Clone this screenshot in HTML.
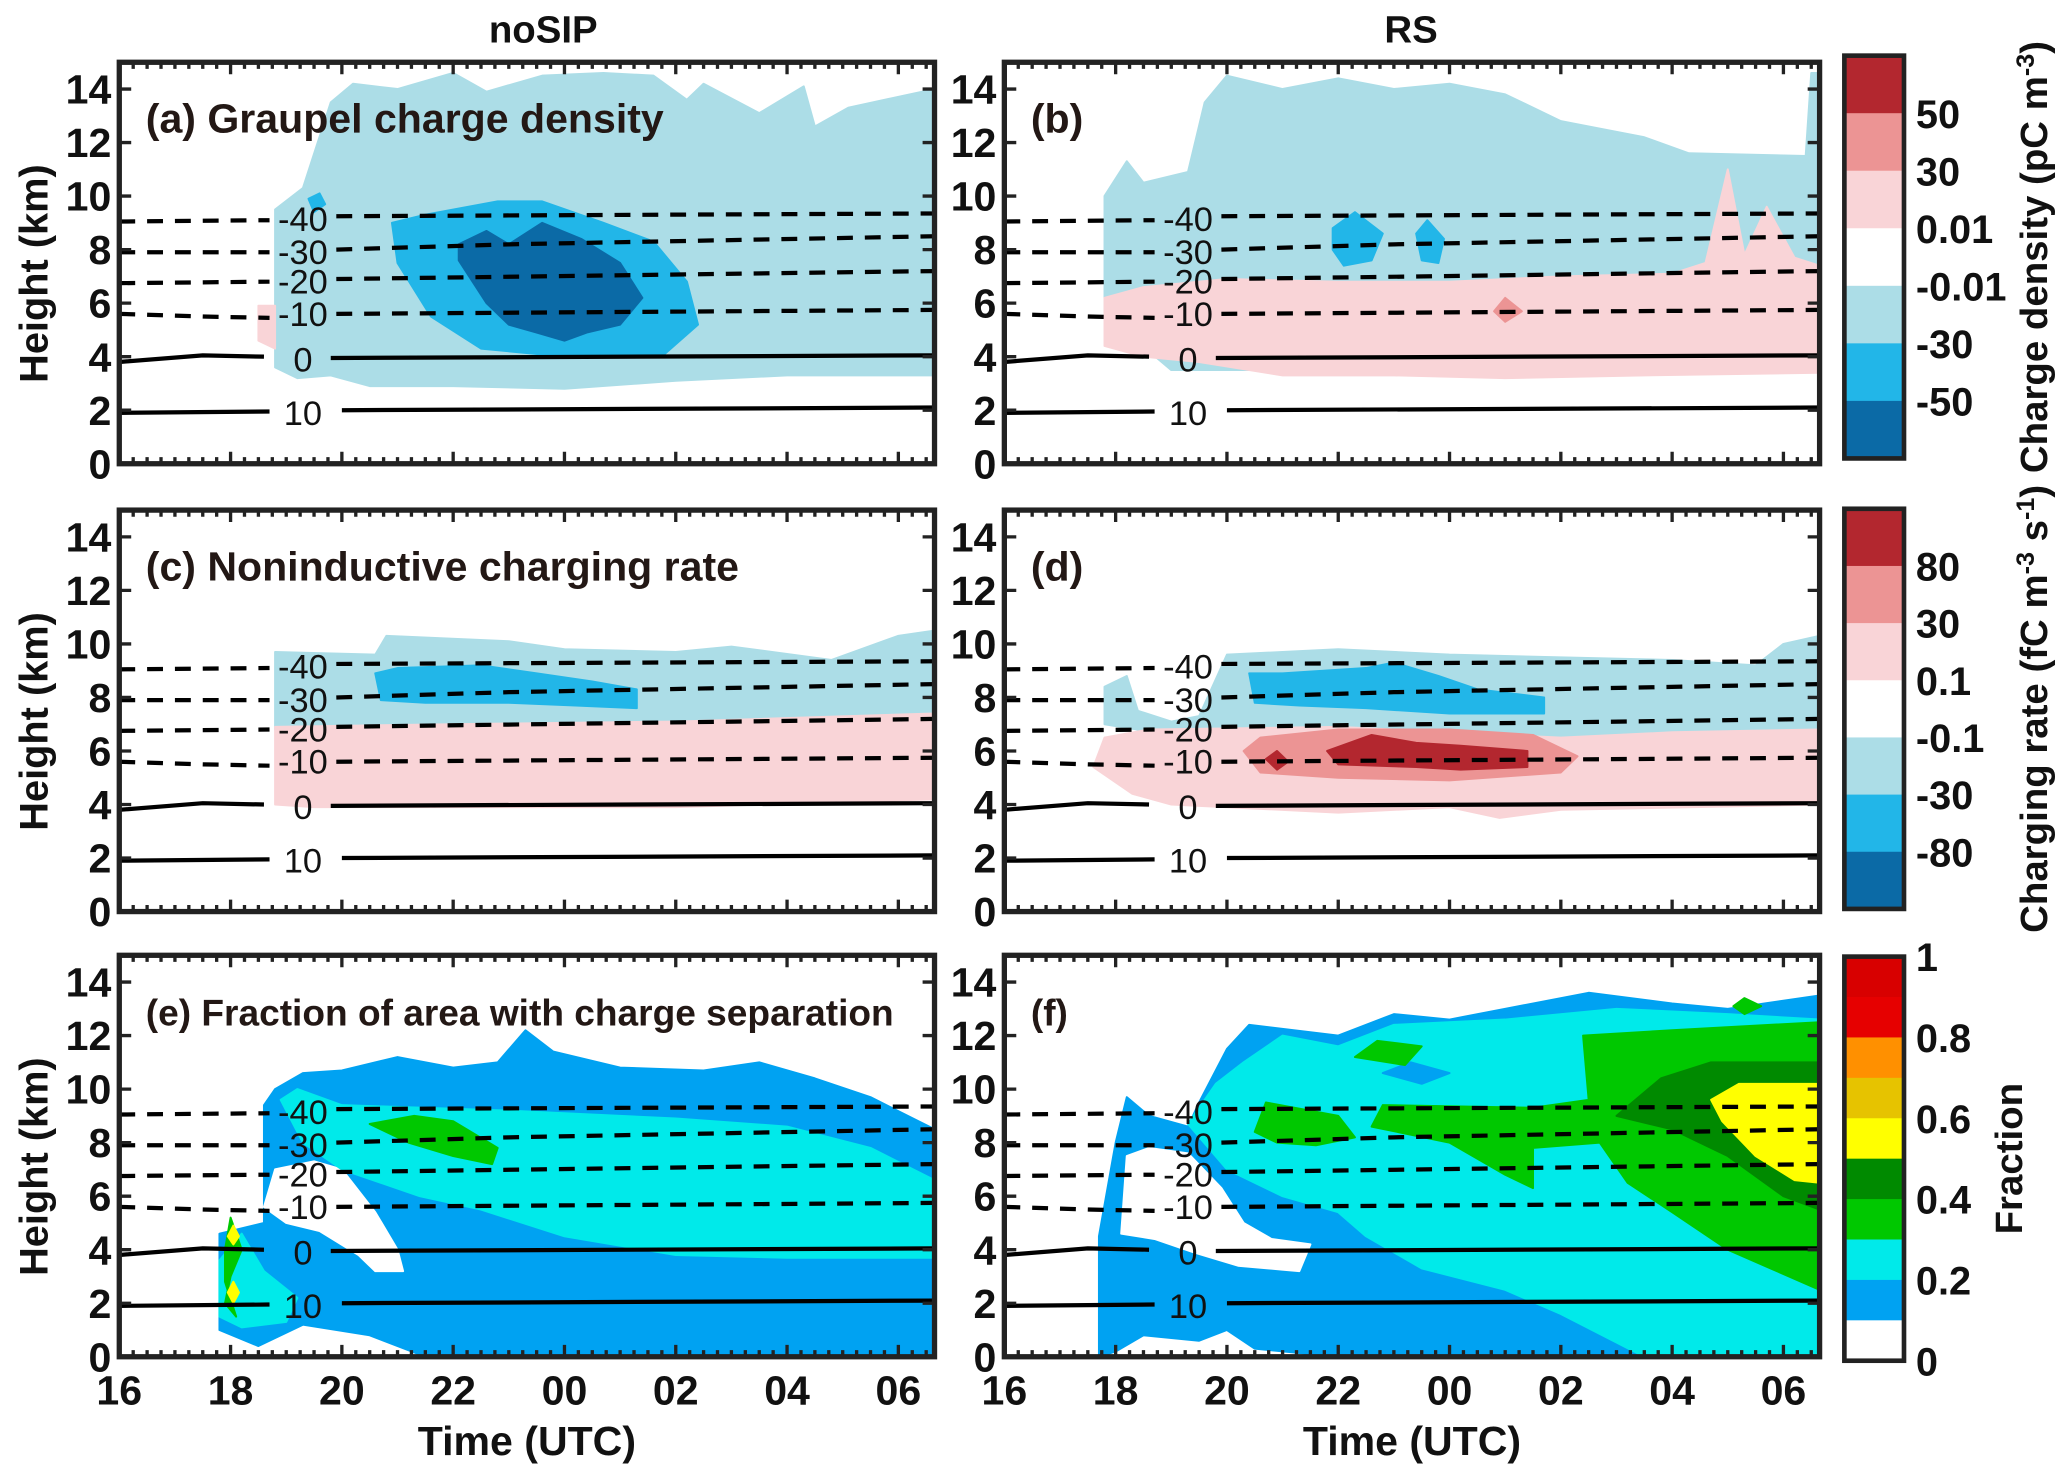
<!DOCTYPE html>
<html><head><meta charset="utf-8"><style>
html,body{margin:0;padding:0;background:#fff;}
svg{display:block;}
text{font-family:"Liberation Sans",sans-serif;}
</style></head><body>
<svg id="fig" width="2067" height="1476" viewBox="0 0 1560 1114" xmlns="http://www.w3.org/2000/svg">
<g id="layer"></g>
</svg>
<script>
// ---- data (time in hours since 16 UTC, height in km) ----
const xTickLabels = ["16","18","20","22","00","02","04","06"];
const yTickLabels = [0,2,4,6,8,10,12,14];
const cb1Labels = ["50","30","0.01","-0.01","-30","-50"];
const cb2Labels = ["80","30","0.1","-0.1","-30","-80"];
const cb3Labels = ["1","0.8","0.6","0.4","0.2","0"];
const isoLevels = ["-40","-30","-20","-10","0","10"];
const isoLeft = [[[0,9.05],[2.7,9.1]],[[0,7.9],[2.7,7.9]],[[0,6.75],[2.7,6.8]],[[0,5.6],[1.5,5.5],[2.7,5.45]],[[0,3.8],[1.5,4.05],[2.6,4.0]],[[0,1.9],[2.7,1.95]]];
const isoRight = [[[3.9,9.25],[14.7,9.35]],[[3.9,8.0],[7,8.2],[14.7,8.5]],[[3.9,6.9],[14.7,7.2]],[[3.9,5.6],[14.7,5.75]],[[3.8,3.95],[14.7,4.05]],[[4.0,2.0],[14.7,2.1]]];
const isoLabelY = [9.15,7.9,6.8,5.6,3.9,1.9];
// panel a
const aLight = [[2.8,3.6],[2.8,9.5],[3.3,10.3],[3.8,13.5],[4.2,14.2],[5,14],[6,14.6],[6.6,13.9],[7.6,14.5],[8.7,14.6],[9.6,14.5],[10.2,13.6],[10.5,14.2],[11.5,13.1],[12.3,14.1],[12.5,12.6],[13.1,13.3],[14.7,14.0],[14.7,3.3],[12,3.3],[10,3.1],[8,2.8],[6,2.9],[4.5,2.9],[3.8,3.3],[3.2,3.2]];
const aMid = [[4.9,9.0],[5.5,9.3],[6.8,9.8],[7.6,9.8],[8.7,9.0],[9.6,8.3],[10.2,6.8],[10.4,5.2],[9.8,4.1],[8,4.0],[6.5,4.3],[5.6,5.5],[5.0,7.5]];
const aDark = [[6.1,8.2],[6.6,8.7],[7.0,8.2],[7.6,9.0],[8.3,8.4],[9.0,7.5],[9.4,6.2],[9.0,5.2],[8.4,4.9],[8.0,4.6],[7.5,4.9],[7.0,5.2],[6.6,6.0],[6.1,7.6]];
const aBlob = [[3.4,9.9],[3.6,10.1],[3.7,9.7],[3.5,9.4]];
const aPink = [[2.5,5.9],[2.8,5.9],[2.8,4.3],[2.5,4.6]];
// panel b
const bLight = [[1.8,5.6],[1.8,10],[2.2,11.3],[2.5,10.5],[3.3,10.9],[3.6,13.5],[4.0,14.5],[5,14.0],[6,14.4],[7,14.0],[8,14.2],[9,13.8],[10,12.8],[11.5,12.2],[12.3,11.6],[14.4,11.5],[14.5,14.6],[14.7,14.6],[14.7,3.5],[3,3.5]];
const bPink = [[1.8,4.4],[1.8,6.2],[2.5,6.6],[4,6.9],[6,6.8],[8,6.8],[10,7.0],[12,7.1],[12.6,7.5],[13.0,11.0],[13.3,7.8],[13.7,9.6],[14.2,7.7],[14.7,7.4],[14.7,3.4],[11.5,3.3],[9,3.2],[7,3.3],[5,3.3],[3.5,3.8],[2.5,4.0]];
const bMid1 = [[5.9,8.8],[6.3,9.4],[6.8,8.6],[6.6,7.6],[6.1,7.4],[5.9,8.0]];
const bMid2 = [[7.4,8.6],[7.6,9.1],[7.9,8.4],[7.8,7.5],[7.5,7.6]];
const bSal = [[8.8,5.7],[9.0,6.2],[9.3,5.7],[9.0,5.3]];
// panel c
const cLight = [[2.8,7.0],[2.8,9.7],[4.6,9.6],[4.8,10.3],[7,10.1],[8,9.8],[10,9.7],[11,9.9],[12.8,9.4],[14,10.3],[14.7,10.5],[14.7,7.3],[10,7.1],[6,6.9],[2.8,6.8]];
const cPink = [[2.8,4.0],[2.8,6.9],[6,7.0],[10,7.1],[14.7,7.4],[14.7,4.2],[10,3.9],[6,3.9],[3.5,3.9]];
const cMid = [[4.6,8.9],[5.0,9.1],[6.5,9.2],[7.5,8.9],[8.5,8.6],[9.3,8.3],[9.3,7.6],[8.2,7.7],[7,7.8],[5.5,7.8],[4.7,7.9]];
// panel d
const dLight = [[1.8,7.0],[1.8,8.4],[2.2,8.8],[2.4,7.5],[3,7.1],[3.5,7.3],[4.0,9.6],[6,9.8],[8,9.6],[10,9.5],[12,9.4],[13.5,9.2],[14.0,10.0],[14.7,10.3],[14.7,6.7],[12,6.6],[10,6.4],[6,6.7],[3,6.6]];
const dPink = [[1.6,5.4],[1.8,6.5],[2.6,6.8],[6,6.9],[10,6.5],[12,6.7],[14.7,6.8],[14.7,4.0],[10,3.8],[8.9,3.5],[8,3.9],[6,3.7],[3,4.0],[2.3,4.4]];
const dMid = [[4.4,8.9],[5,8.9],[6.5,9.1],[7.0,9.3],[7.8,8.8],[8.5,8.3],[9.7,8.0],[9.7,7.4],[8,7.4],[6.5,7.6],[5.3,7.7],[4.5,7.8]];
const dSal = [[4.3,6.0],[4.6,6.5],[6,6.8],[8,6.8],[9.5,6.6],[10.3,5.8],[10,5.2],[8,4.9],[6,5.0],[4.6,5.2]];
const dDark = [[5.8,6.0],[6.6,6.6],[7.4,6.3],[8.2,6.2],[9.4,6.0],[9.4,5.4],[8.2,5.3],[7.4,5.4],[6.0,5.5]];
const dDark2 = [[4.7,5.7],[4.9,6.0],[5.1,5.6],[4.9,5.3]];
// panel e
const eBlue = [[1.8,1.0],[1.8,4.6],[2.6,5.0],[2.6,9.4],[2.8,10.0],[3.3,10.6],[4.0,10.7],[5,11.2],[6,10.8],[6.8,11.0],[7.3,12.2],[7.8,11.4],[9,10.8],[10.5,10.7],[11.5,11.0],[12.5,10.4],[13.5,9.7],[14.7,8.5],[14.7,0],[5.5,0],[4.5,0.8],[3.3,1.2],[2.5,0.4]];
const eWhite = [[2.6,5.6],[2.8,7.0],[3.5,7.3],[4.0,7.0],[4.6,5.4],[5.0,4.0],[5.1,3.2],[4.6,3.2],[4.3,3.8],[3.6,4.7],[3.0,5.0]];
const eCyan = [[2.9,9.6],[3.2,10.0],[4,9.4],[7,9.2],[10,8.9],[12,8.6],[13.5,7.8],[14.7,6.6],[14.7,3.7],[12,3.7],[10,3.8],[8,4.5],[6.5,5.5],[5.4,6.0],[4.0,7.0],[3.3,8.0]];
const eCyan2 = [[1.8,1.5],[1.8,3.6],[2.2,4.6],[2.6,3.2],[3.2,2.2],[3.0,1.3],[2.2,1.1]];
const eGreen = [[4.5,8.7],[5.3,9.0],[6.0,8.8],[6.8,7.8],[6.7,7.2],[6.0,7.5],[5.2,8.0]];
const eGreen2 = [[1.9,4.0],[2.0,5.2],[2.2,4.0],[2.0,3.0],[1.9,2.0],[2.1,1.5],[1.9,2.8]];
const eYellow = [[1.95,4.5],[2.05,4.9],[2.15,4.5],[2.05,4.2]];
const eYellow2 = [[1.95,2.4],[2.05,2.8],[2.15,2.4],[2.05,2.0]];
// panel f
const fBlue = [[1.7,0],[1.7,4.5],[2.0,8.0],[2.2,9.7],[2.6,9.0],[3.3,8.6],[3.5,9.5],[4.0,11.5],[4.4,12.4],[6,12.0],[7,12.8],[8,12.6],[9,13.0],[10.5,13.6],[12,13.2],[13,13.0],[14.7,13.5],[14.7,0],[6,0],[4.5,0.3],[4.0,1.0],[3.5,0.6],[2.5,0.8],[2,0.2]];
const fWhite = [[2.1,4.6],[2.2,7.5],[2.6,7.8],[3.3,7.6],[3.9,6.3],[4.3,5.0],[4.8,4.4],[5.5,4.2],[5.3,3.2],[4.2,3.4],[3.4,3.9],[2.7,4.4]];
const fCyan = [[3.3,8.7],[3.8,10.2],[4.3,11.0],[5,12.0],[6,11.6],[7,12.4],[9,12.6],[11,13.0],[13,12.8],[14.7,12.6],[14.7,0],[11.5,0],[10,1.6],[9,2.5],[7.5,3.3],[6.5,4.5],[6.0,5.4],[5.0,6.0],[4.0,7.0]];
const fBlueHole = [[6.8,10.6],[7.3,11.0],[8.0,10.6],[7.5,10.2]];
const fGreen = [[4.5,8.4],[4.7,9.5],[6.0,9.0],[6.3,8.2],[5.6,7.9],[4.9,8.0]];
const fGreen2 = [[6.6,8.6],[6.8,9.4],[9.5,9.3],[10.5,9.6],[10.4,12.0],[12,12.2],[14.7,12.5],[14.7,2.5],[13,4.0],[12,5.4],[11.2,6.5],[10.7,8.0],[9.5,7.8],[9.5,6.3],[9.0,6.8],[8,8.0]];
const fGreen3 = [[6.3,11.2],[6.7,11.8],[7.5,11.6],[7.2,10.9]];
const fDark = [[11.0,9.0],[11.8,10.4],[12.7,11.0],[14.7,11.0],[14.7,5.5],[14.0,6.0],[13.0,7.5],[12.0,8.5]];
const fYellow = [[12.7,9.6],[13.2,10.2],[14.7,10.2],[14.7,6.5],[14.2,6.6],[13.5,7.5],[12.9,8.8]];
const fTop = [[13.1,13.1],[13.3,13.4],[13.6,13.1],[13.3,12.8]];

// ---- layout ----
const NS="http://www.w3.org/2000/svg";
const L=document.getElementById('layer');
const colX=[90,758], rowB=[350,688,1024], PXH=42, PXK=20.2, XMAX=14.65;
function mk(tag,attrs,parent){const e=document.createElementNS(NS,tag);for(const k in attrs)e.setAttribute(k,attrs[k]);(parent||L).appendChild(e);return e;}
function xs(c,h){return colX[c]+h*PXH;}
function ys(r,k){return rowB[r]-k*PXK;}
function pts(c,r,arr){return arr.map(p=>xs(c,Math.min(p[0],XMAX)).toFixed(1)+','+ys(r,p[1]).toFixed(1)).join(' ');}
const C={lb:'#acdde7',mb:'#22b6e8',db:'#0b6aa6',pk:'#f9d4d7',sa:'#ec9494',dr:'#b3272f',fb:'#00a2f2',fc:'#00eaea',fg:'#00c800',fd:'#008a00',fy:'#ffff00',fr:'#e60000',fo:'#ff9000'};
function poly(c,r,arr,col,name){const p=mk('polygon',{points:pts(c,r,arr),fill:col,stroke:col,'stroke-width':1,'stroke-linejoin':'round'});

}

const panels=[
 {c:0,r:0,lab:'(a) Graupel charge density',polys:[[aLight,C.lb],[aMid,C.mb],[aDark,C.db],[aBlob,C.mb],[aPink,C.pk]]},
 {c:1,r:0,lab:'(b)',polys:[[bLight,C.lb],[bPink,C.pk],[bMid1,C.mb],[bMid2,C.mb],[bSal,C.sa]]},
 {c:0,r:1,lab:'(c) Noninductive charging rate',polys:[[cLight,C.lb],[cPink,C.pk],[cMid,C.mb]]},
 {c:1,r:1,lab:'(d)',polys:[[dLight,C.lb],[dPink,C.pk],[dMid,C.mb],[dSal,C.sa],[dDark,C.dr],[dDark2,C.dr]]},
 {c:0,r:2,lab:'(e) Fraction of area with charge separation',polys:[[eBlue,C.fb],[eWhite,'#ffffff'],[eCyan,C.fc],[eCyan2,C.fc],[eGreen,C.fg],[eGreen2,C.fg],[eYellow,C.fy],[eYellow2,C.fy]]},
 {c:1,r:2,lab:'(f)',polys:[[fBlue,C.fb],[fWhite,'#ffffff'],[fCyan,C.fc],[fBlueHole,C.fb],[fGreen,C.fg],[fGreen3,C.fg],[fGreen2,C.fg],[fDark,C.fd],[fYellow,C.fy],[fTop,C.fg]]}
];
panels.forEach((P,pi)=>{
 const g=mk('g',{});
 
 
 const x0=xs(P.c,0),x1=xs(P.c,XMAX),yb=ys(P.r,0),yt=ys(P.r,15);
 P.polys.forEach((q,i)=>{const p=mk('polygon',{points:pts(P.c,P.r,q[0]),fill:q[1],stroke:q[1],'stroke-width':1.5,'stroke-linejoin':'round'},g);
  
  });
 // isotherms
 isoLevels.forEach((lv,i)=>{
  const dash=(+lv<0)?'12,9':'none';
  [isoLeft[i],isoRight[i]].forEach(seg=>{
   const l=mk('polyline',{points:pts(P.c,P.r,seg),fill:'none',stroke:'#000','stroke-width':3.2,'stroke-dasharray':dash},g);
   
   });
  const t=mk('text',{x:xs(P.c,3.3),y:ys(P.r,isoLabelY[i])+9,'font-size':26,'text-anchor':'middle',fill:'#111',transform:''},g);
  t.textContent=lv;
  
  
 });
 // frame
 const f=mk('rect',{x:x0,y:yt,width:x1-x0,height:yb-yt,fill:'none',stroke:'#222','stroke-width':4},g);
 
 
 let d='';
 for(let h=0;h<=XMAX;h+=0.25){const major=Math.abs(h/2-Math.round(h/2))<1e-6;const len=major?9:5;const X=xs(P.c,h);d+=`M${X},${yb}v${-len}M${X},${yt}v${len}`;}
 for(let k=0;k<=14;k+=2){const Y=ys(P.r,k);d+=`M${x0},${Y}h9M${x1},${Y}h-9`;}
 const tk=mk('path',{d:d,stroke:'#222','stroke-width':2.5,fill:'none'},g);
 
 
 // y tick labels
 yTickLabels.forEach(k=>{const t=mk('text',{x:x0-6,y:ys(P.r,k)+11,'font-size':31,'font-weight':'bold','text-anchor':'end',fill:'#111'},g);t.textContent=k;
  
  });
 if(P.r===2){xTickLabels.forEach((s,i)=>{const t=mk('text',{x:xs(P.c,i*2),y:yb+36,'font-size':31,'font-weight':'bold','text-anchor':'middle',fill:'#111'},g);t.textContent=s;
  
  });
  const t=mk('text',{x:(x0+x1)/2,y:yb+74,'font-size':31,'font-weight':'bold','text-anchor':'middle',fill:'#111'},g);t.textContent='Time (UTC)';
  
  }
 if(P.c===0){const yc=(yb+yt)/2;const t=mk('text',{x:0,y:0,'font-size':30,'font-weight':'bold','text-anchor':'middle',fill:'#111',transform:`translate(36,${yc+8}) rotate(-90)`},g);t.textContent='Height (km)';
  
  }
 const lt=mk('text',{x:x0+20,y:yt+53,'font-size':P.r===2?28:31,'font-weight':'bold',fill:'#231815'},g);lt.textContent=P.lab;
 
 
});
// column titles
[['noSIP',410],['RS',1065]].forEach(s=>{const t=mk('text',{x:s[1],y:32,'font-size':29,'font-weight':'bold','text-anchor':'middle',fill:'#111'});t.textContent=s[0];
 
 });
// colorbars
function colorbar(y0,y1,cols,labels,labelIdx,name,title,tx){
 const g=mk('g',{});
 
 
 const n=cols.length,h=(y1-y0)/n;
 cols.forEach((c,i)=>{const r=mk('rect',{x:1392,y:y0+i*h,width:45,height:h+0.5,fill:c},g);
  
  });
 const fr=mk('rect',{x:1392,y:y0,width:45,height:y1-y0,fill:'none',stroke:'#222','stroke-width':3.5},g);
 
 
 labels.forEach((s,i)=>{const t=mk('text',{x:1446,y:y0+labelIdx[i]*h+11,'font-size':30,'font-weight':'bold',fill:'#111'},g);t.textContent=s;
  
  });
 const t=mk('text',{x:0,y:0,'font-size':29,'font-weight':'bold','text-anchor':'middle',fill:'#111',transform:`translate(${tx},${(y0+y1)/2}) rotate(-90)`},g);
 t.innerHTML=title;
 
 
}
const divCols=[C.dr,C.sa,C.pk,'#ffffff',C.lb,C.mb,C.db];
colorbar(42,346,divCols,cb1Labels,[1,2,3,4,5,6],'colorbar-charge-density','Charge density (pC m<tspan dy="-10" font-size="19">-3</tspan><tspan dy="10">)</tspan>',1545);
colorbar(384,686,divCols,cb2Labels,[1,2,3,4,5,6],'colorbar-charging-rate','Charging rate (fC m<tspan dy="-10" font-size="19">-3</tspan><tspan dy="10"> s</tspan><tspan dy="-10" font-size="19">-1</tspan><tspan dy="10">)</tspan>',1545);
colorbar(722,1027,['#d80000',C.fr,C.fo,'#e6c300',C.fy,C.fd,C.fg,C.fc,C.fb,'#ffffff'],cb3Labels,[0,2,4,6,8,10],'colorbar-fraction','Fraction',1526);
</script>
</body></html>
